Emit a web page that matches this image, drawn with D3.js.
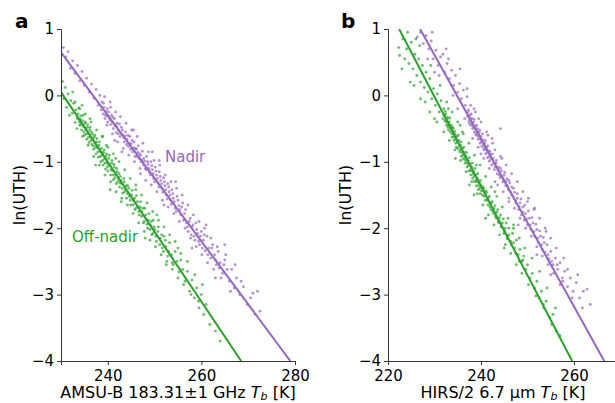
<!DOCTYPE html>
<html>
<head>
<script src="https://d3js.org/d3.v7.min.js"></script>
<style>
  body { margin: 0; background: #fff; }
  svg text { font-family: "DejaVu Sans", sans-serif; fill: #000; }
</style>
</head>
<body>
<svg width="615" height="403"></svg>
<script>
// scatter points, [Tb, ln(UTH)]
const nadirA = [
  [230.5,0.72],[231.0,0.58],[231.5,0.66],[232.0,0.41],[232.5,0.52],[233.0,0.33],[233.5,0.45],[234.0,0.22],[234.5,0.36],[235.0,0.15],[235.5,0.26],[236.0,0.05],[236.5,0.17],[237.0,-0.04],[237.5,0.09],[238.0,-0.15],[238.3,0.00],
  [238.6,-0.22],[238.8,-0.10],[239.0,-0.28],[239.2,-0.18],[239.4,-0.35],[239.6,-0.24],[239.8,-0.31],[240.0,-0.40],[240.2,-0.25],[240.4,-0.36],[240.6,-0.44],[240.8,-0.30],[241.0,-0.41],[241.2,-0.50],[241.4,-0.35],[241.6,-0.46],[241.8,-0.56],[242.0,-0.42],[242.3,-0.53],[242.6,-0.62],[242.9,-0.48],[243.2,-0.60],[243.5,-0.70],[243.8,-0.55],[244.1,-0.66],[244.4,-0.77],[244.7,-0.62],[245.0,-0.73],[245.3,-0.85],[245.6,-0.70],[245.9,-0.80],[246.2,-0.92],[246.5,-0.76],[246.8,-0.88],[247.1,-1.00],[247.4,-0.84],[247.7,-0.95],[248.0,-1.10],[248.3,-0.92],[248.6,-1.04],[248.9,-1.16],[249.2,-1.00],[249.5,-1.12],[249.8,-1.25],[250.1,-1.08],[250.4,-1.20],[250.7,-1.32],[251.0,-1.15],[251.3,-1.28],[251.6,-1.40],[251.9,-1.24],[252.2,-1.36],[252.5,-1.50],[252.8,-1.33],[253.1,-1.45],[253.4,-1.58],[253.7,-1.42],[254.0,-1.55],[254.4,-1.70],[254.8,-1.52],[255.2,-1.66],[255.6,-1.80],[256.0,-1.62],
  [240.5,-0.10],[243.0,-0.85],[245.5,-0.52],[247.0,-1.18],[249.5,-0.85],[252.0,-1.65],[254.5,-1.30],[241.5,-0.68],[251.0,-0.98],
  [256.4,-1.78],[256.8,-1.92],[257.2,-2.05],[257.6,-1.85],[258.0,-1.98],[258.4,-2.12],[258.8,-1.92],[259.2,-2.08],[259.6,-2.25],[260.0,-2.05],[260.4,-2.18],[260.8,-2.34],[261.2,-2.12],[261.6,-2.30],[262.0,-2.45],[262.4,-2.25],[262.8,-2.40],[263.2,-2.55],[263.6,-2.35],[264.0,-2.52],[264.5,-2.68],[265.0,-2.48],[265.5,-2.62],[266.0,-2.80],
  [258.0,-2.30],[261.0,-1.95],[263.0,-2.75],[265.0,-2.25],
  [266.5,-2.62],[267.0,-2.90],[267.5,-2.75],[268.2,-3.00],[269.0,-2.88],[269.8,-3.15],[270.5,-3.05],[271.0,-2.98],[271.5,-3.30],[272.0,-2.95],[272.5,-3.25],
  [239.1,-0.12],[239.5,-0.30],[239.9,-0.20],[240.3,-0.33],[240.7,-0.38],[241.1,-0.33],[241.5,-0.44],[241.9,-0.47],[242.2,-0.58],[242.5,-0.43],[242.8,-0.57],[243.1,-0.52],[243.4,-0.64],[243.7,-0.61],[244.0,-0.74],[244.3,-0.60],[244.6,-0.72],[244.9,-0.81],[245.2,-0.68],[245.5,-0.79],[245.8,-0.92],[246.1,-0.81],[246.4,-0.86],[246.7,-0.95],[247.0,-0.90],[247.3,-0.98],[247.6,-1.05],[247.9,-0.99],[248.2,-1.12],[248.5,-1.00],[248.8,-1.10],[249.1,-1.20],[249.4,-1.06],[249.7,-1.18],[250.0,-1.30],[250.3,-1.14],[250.6,-1.25],[250.9,-1.38],[251.2,-1.22],[251.5,-1.33],[251.8,-1.46],[252.1,-1.30],[252.4,-1.42],[252.7,-1.56],[253.0,-1.38],[253.3,-1.50],[253.6,-1.64],[253.9,-1.48],[254.2,-1.60],[254.6,-1.75],[255.0,-1.58],[255.4,-1.72],[255.8,-1.68],[256.2,-1.88],[256.6,-1.72],[257.0,-1.98],[257.4,-1.90],[257.8,-2.10],[258.2,-1.95],[258.6,-2.18],[259.0,-2.02],[259.4,-2.20],[259.8,-2.12],[260.2,-2.30],[260.6,-2.10],[261.4,-2.40],[262.2,-2.30],[263.0,-2.48],[263.8,-2.60],[264.8,-2.55],
  [239.3,-0.02],[239.8,-0.45],[240.6,-0.18],[241.0,-0.58],[241.7,-0.25],[242.1,-0.70],[242.7,-0.32],[243.3,-0.80],[243.9,-0.42],[244.5,-0.90],[245.1,-0.52],[245.7,-1.00],[246.3,-0.62],[246.9,-1.10],[247.5,-0.72],[248.1,-1.28],[248.7,-0.85],[249.3,-1.35],[249.9,-0.98],[250.5,-1.45],[251.1,-1.05],[251.7,-1.58],[252.3,-1.20],[252.9,-1.68],[253.5,-1.30],[254.1,-1.78],[254.7,-1.40],[255.3,-1.90],[255.9,-1.50],[256.5,-2.00],[257.1,-1.65],[257.7,-2.15],[258.3,-1.80],[258.9,-2.28],[259.5,-1.90],[260.1,-2.40],[260.7,-2.00],[261.3,-2.52],[262.0,-2.15],[262.6,-2.62],[263.4,-2.28],[264.2,-2.75],[265.2,-2.40],[266.2,-2.95],[267.2,-2.55],[268.5,-2.80]
];
const offNadirA = [
  [230.3,0.21],[230.6,-0.05],[230.9,0.12],[231.2,-0.18],[231.5,0.02],[231.8,-0.30],[232.1,-0.08],[232.4,-0.27],[232.7,-0.12],[233.0,-0.41],[233.2,-0.22],[233.5,-0.35],[233.8,-0.19],
  [234.0,-0.45],[234.2,-0.31],[234.4,-0.52],[234.6,-0.38],[234.8,-0.47],[235.0,-0.60],[235.1,-0.42],[235.3,-0.51],[235.5,-0.66],[235.6,-0.48],[235.8,-0.57],[236.0,-0.71],[236.1,-0.52],[236.3,-0.62],[236.5,-0.55],[236.6,-0.74],[236.8,-0.66],[237.0,-0.81],[237.1,-0.63],[237.3,-0.72],[237.5,-0.88],[237.6,-0.70],[237.8,-0.79],[238.0,-0.93],[238.1,-0.75],[238.3,-0.84],[238.5,-1.00],[238.6,-0.80],[238.8,-0.90],[239.0,-1.05],[239.1,-0.86],[239.3,-0.96],[239.5,-1.11],[239.6,-0.92],[239.8,-1.01],[240.0,-1.14],[240.2,-0.95],[240.4,-1.06],[240.6,-1.20],[240.8,-1.02],[241.0,-1.13],[241.2,-1.27],[241.4,-1.08],[241.6,-1.19],[241.8,-1.33],[242.0,-1.15],[242.2,-1.25],[242.5,-1.38],[242.7,-1.22],[243.0,-1.33],[243.2,-1.47],[243.5,-1.30],[243.8,-1.42],[244.0,-1.55],
  [234.5,-0.15],[236.2,-0.35],[237.4,-1.05],[238.9,-0.62],[240.5,-1.42],[241.7,-0.95],[239.7,-0.75],[242.9,-1.60],
  [244.3,-1.36],[244.6,-1.52],[244.9,-1.65],[245.2,-1.43],[245.5,-1.58],[245.8,-1.72],[246.1,-1.51],[246.4,-1.68],[246.7,-1.80],[247.0,-1.60],[247.3,-1.75],[247.6,-1.92],[247.9,-1.70],[248.2,-1.86],[248.5,-2.00],[248.8,-1.78],[249.1,-1.95],[249.4,-2.10],[249.7,-1.88],[250.0,-2.02],[250.4,-2.20],[250.8,-1.98],[251.2,-2.15],[251.6,-2.30],[252.0,-2.12],[252.4,-2.28],[252.8,-2.42],[253.2,-2.22],[253.6,-2.40],[254.0,-2.55],[254.4,-2.35],[254.8,-2.50],[255.2,-2.66],[255.6,-2.48],[256.0,-2.62],
  [246.0,-1.35],[248.0,-2.15],[250.5,-1.80],[252.5,-2.55],[255.0,-2.30],
  [256.5,-2.80],[257.0,-2.65],[257.5,-2.95],[258.0,-2.78],[258.5,-3.05],[259.0,-2.90],[259.5,-3.20],[260.0,-3.00],[260.5,-3.30],[261.0,-3.15],[261.8,-3.45],[263.0,-3.55],[264.0,-3.70],
  [233.6,-0.28],[233.9,-0.40],[234.1,-0.36],[234.3,-0.44],[234.7,-0.30],[234.9,-0.55],[235.2,-0.40],[235.4,-0.58],[235.7,-0.44],[235.9,-0.63],[236.2,-0.48],[236.4,-0.68],[236.7,-0.58],[236.9,-0.76],[237.2,-0.60],[237.4,-0.78],[237.7,-0.65],[237.9,-0.85],[238.2,-0.70],[238.4,-0.92],[238.7,-0.86],[238.9,-0.98],[239.2,-0.82],[239.4,-1.02],[239.7,-0.88],[239.9,-1.08],[240.1,-1.04],[240.3,-0.90],[240.7,-1.12],[240.9,-0.98],[241.1,-1.20],[241.3,-1.04],[241.5,-1.24],[241.9,-1.10],[242.1,-1.30],[242.4,-1.18],[242.6,-1.32],[242.8,-1.28],[243.1,-1.40],[243.4,-1.25],[243.6,-1.45],[243.9,-1.36],[244.2,-1.48],[244.5,-1.40],[244.8,-1.58],[245.1,-1.50],[245.4,-1.65],[245.7,-1.55],[246.0,-1.70],[246.3,-1.60],[246.6,-1.75],[246.9,-1.68],[247.2,-1.82],[247.5,-1.70],[247.8,-1.90],[248.1,-1.80],[248.4,-1.94],[248.7,-1.88],[249.0,-2.02],[249.3,-1.90],[249.6,-2.08],[249.9,-1.98],[250.3,-2.12],[250.7,-2.05],[251.1,-2.25],[251.5,-2.10],[251.9,-2.35],[252.3,-2.18],[253.0,-2.35],[253.8,-2.52],
  [232.5,0.05],[233.0,-0.10],[233.4,-0.50],[234.0,-0.20],[234.6,-0.62],[235.2,-0.28],[235.8,-0.75],[236.4,-0.40],[237.0,-0.92],[237.6,-0.52],[238.2,-1.05],[238.8,-0.62],[239.4,-1.20],[240.0,-0.78],[240.6,-1.30],[241.2,-0.88],[241.8,-1.45],[242.4,-1.00],[243.0,-1.55],[243.6,-1.12],[244.2,-1.65],[244.8,-1.25],[245.4,-1.78],[246.0,-1.42],[246.6,-1.92],[247.2,-1.50],[247.8,-2.05],[248.4,-1.62],[249.0,-2.18],[249.6,-1.75],[250.2,-2.28],[250.8,-1.88],[251.4,-2.40],[252.0,-1.98],[252.6,-2.50],[253.2,-2.10],[253.8,-2.62],[254.4,-2.20],[255.0,-2.75],[255.6,-2.38],[256.2,-2.85],[257.0,-2.50],[257.8,-3.00],[258.6,-2.70],[259.4,-3.10],[260.2,-2.85]
];
const nadirB = [
  [226.3,0.88],[227.0,0.95],[227.6,0.78],[228.2,0.90],[228.8,0.70],[229.3,0.82],[229.7,0.55],[230.3,0.68],[230.8,0.45],[231.3,0.58],[231.8,0.62],[232.2,0.35],[232.7,0.48],[233.2,0.25],[233.7,0.38],[234.1,0.15],[234.5,0.30],[235.0,0.05],[235.4,0.18],[235.8,-0.05],[236.2,0.08],[236.6,-0.15],[237.0,-0.02],[230.0,0.35],[233.0,0.55],[235.0,-0.20],
  [237.2,-0.25],[237.4,-0.38],[237.6,-0.30],[237.8,-0.45],[238.0,-0.35],[238.2,-0.50],[238.4,-0.40],[238.6,-0.55],[238.8,-0.46],[239.0,-0.60],[239.2,-0.50],[239.4,-0.66],[239.6,-0.56],[239.8,-0.72],[240.0,-0.62],[240.2,-0.77],[240.4,-0.67],[240.6,-0.82],[240.8,-0.72],[241.0,-0.88],[241.2,-0.78],[241.4,-0.94],[241.6,-0.84],[241.8,-0.99],[242.0,-0.89],[242.3,-1.05],[242.6,-0.95],[242.9,-1.12],[243.2,-1.02],[243.5,-1.18],[243.8,-1.08],[244.1,-1.24],[244.4,-1.14],[244.7,-1.30],[245.0,-1.20],[245.3,-1.36],[245.6,-1.26],[245.9,-1.42],
  [238.5,-0.20],[240.0,-0.88],[241.5,-0.60],[243.0,-1.30],[244.5,-0.95],[246.0,-1.60],[239.5,-0.35],[242.5,-0.72],[244.2,-0.50],
  [246.2,-1.32],[246.6,-1.50],[247.0,-1.40],[247.4,-1.58],[247.8,-1.48],[248.2,-1.68],[248.6,-1.56],[249.0,-1.76],[249.4,-1.65],[249.8,-1.86],[250.2,-1.74],[250.6,-1.95],[251.0,-1.84],[251.4,-2.05],[251.8,-1.94],[252.2,-2.15],[252.6,-2.04],[253.0,-2.25],[253.4,-2.14],[253.8,-2.36],[254.2,-2.25],[254.6,-2.46],[255.0,-2.35],[255.5,-2.55],[256.0,-2.45],
  [248.0,-1.95],[250.0,-1.60],[252.0,-2.40],[254.0,-2.05],[255.0,-2.70],[251.5,-1.70],
  [256.5,-2.62],[257.0,-2.52],[257.5,-2.75],[258.0,-2.65],[258.6,-2.88],[259.2,-2.75],[259.8,-2.95],[260.5,-2.82],[261.2,-3.05],[262.0,-2.95],[262.8,-2.92],[263.5,-3.15],
  [237.1,-0.32],[237.3,-0.22],[237.5,-0.42],[237.7,-0.35],[237.9,-0.28],[238.1,-0.42],[238.3,-0.47],[238.5,-0.36],[238.7,-0.50],[238.9,-0.58],[239.1,-0.45],[239.3,-0.55],[239.5,-0.62],[239.7,-0.52],[239.9,-0.66],[240.1,-0.70],[240.3,-0.58],[240.5,-0.75],[240.7,-0.80],[240.9,-0.68],[241.1,-0.82],[241.3,-0.86],[241.5,-0.76],[241.7,-0.92],[241.9,-0.84],[242.1,-0.96],[242.4,-0.88],[242.7,-1.02],[243.0,-1.08],[243.3,-0.98],[243.6,-1.12],[243.9,-1.20],[244.2,-1.10],[244.5,-1.22],[244.8,-1.26],[245.1,-1.16],[245.4,-1.30],[245.7,-1.36],[246.0,-1.28],[246.3,-1.45],[246.6,-1.38],[246.9,-1.52],[247.2,-1.46],[247.5,-1.62],[247.8,-1.55],[248.1,-1.72],[248.4,-1.62],[248.7,-1.80],[249.0,-1.68],[249.3,-1.88],[249.6,-1.78],[250.0,-1.95],[250.4,-1.85],[250.8,-2.02],[251.2,-1.92],[251.6,-2.12],[252.0,-2.02],[252.4,-2.22],[252.8,-2.12],[253.2,-2.32],[253.6,-2.22],[254.4,-2.40],[255.2,-2.50],[256.4,-2.55],[257.6,-2.80],
  [228.5,0.55],[229.5,0.95],[231.0,0.30],[232.5,0.70],[234.0,0.00],[235.5,0.40],[236.5,-0.35],[237.0,0.10],[237.8,-0.15],[238.2,-0.65],[238.8,-0.25],[239.4,-0.78],[240.0,-0.40],[240.6,-0.95],[241.2,-0.55],[241.8,-1.10],[242.4,-0.65],[243.0,-0.82],[243.6,-1.35],[244.2,-0.92],[244.8,-1.45],[245.4,-1.05],[246.0,-1.55],[246.6,-1.18],[247.2,-1.70],[247.8,-1.30],[248.4,-1.85],[249.0,-1.45],[249.6,-2.00],[250.2,-1.55],[250.8,-2.12],[251.4,-1.72],[252.0,-2.28],[252.6,-1.85],[253.2,-2.42],[253.8,-2.00],[254.4,-2.55],[255.0,-2.15],[255.6,-2.68],[256.2,-2.30],[257.0,-2.85],[257.8,-2.45],[258.6,-2.62],[259.6,-3.05],[260.8,-2.70],[261.8,-3.20]
];
const offNadirB = [
  [222.3,0.72],[222.5,0.60],[223.2,0.85],[223.6,0.55],[224.0,0.70],[224.5,0.48],[225.0,0.80],[225.4,0.40],[225.8,0.62],[226.2,0.30],[226.6,0.55],[227.0,0.20],[227.4,0.45],[227.8,0.12],[228.2,0.35],[228.6,0.05],[229.0,0.25],[229.4,-0.05],[229.8,0.10],[230.2,-0.15],[230.6,0.02],[231.0,-0.25],[231.4,-0.08],[231.8,-0.35],[224.8,0.20],[227.0,-0.05],[229.0,-0.25],[226.0,0.85],[230.5,-0.40],
  [232.0,-0.20],[232.2,-0.38],[232.4,-0.28],[232.6,-0.45],[232.8,-0.33],[233.0,-0.52],[233.2,-0.40],[233.4,-0.55],[233.6,-0.45],[233.8,-0.63],[234.0,-0.50],[234.2,-0.68],[234.4,-0.58],[234.6,-0.72],[234.8,-0.62],[235.0,-0.80],[235.2,-0.68],[235.4,-0.85],[235.6,-0.75],[235.8,-0.92],[236.0,-0.80],[236.2,-0.96],[236.4,-0.86],[236.6,-1.02],[236.8,-0.92],[237.0,-1.08],[237.2,-0.98],[237.4,-1.14],[237.6,-1.04],[237.8,-1.20],[238.0,-1.08],[238.2,-1.25],[238.4,-1.15],[238.6,-1.30],[238.8,-1.20],[239.0,-1.36],[239.2,-1.25],[239.4,-1.42],[239.6,-1.32],[239.8,-1.48],[240.0,-1.36],
  [233.0,-0.20],[234.5,-0.95],[236.0,-0.55],[237.5,-1.35],[239.0,-1.05],[235.5,-0.45],[238.5,-1.50],
  [240.3,-1.50],[240.6,-1.40],[240.9,-1.58],[241.2,-1.46],[241.5,-1.65],[241.8,-1.52],[242.1,-1.72],[242.4,-1.60],[242.7,-1.78],[243.0,-1.66],[243.3,-1.85],[243.6,-1.72],[243.9,-1.92],[244.2,-1.80],[244.5,-1.98],[244.8,-1.86],[245.1,-2.05],[245.4,-1.92],[245.7,-2.12],[246.0,-2.00],[246.4,-2.20],[246.8,-2.08],[247.2,-2.30],[247.6,-2.18],[248.0,-2.40],
  [241.0,-1.85],[243.0,-1.45],[245.0,-2.30],[247.0,-1.95],
  [248.4,-2.32],[248.8,-2.50],[249.2,-2.42],[249.6,-2.62],[250.0,-2.55],[250.5,-2.75],[251.0,-2.68],[251.5,-2.90],[252.0,-2.80],[252.5,-3.05],[253.0,-2.95],[253.5,-3.20],[254.0,-3.10],[254.8,-3.35],[255.5,-3.30],[256.2,-3.55],[257.0,-3.62],
  [232.1,-0.30],[232.3,-0.24],[232.5,-0.40],[232.7,-0.36],[232.9,-0.48],[233.1,-0.44],[233.3,-0.34],[233.5,-0.50],[233.7,-0.58],[233.9,-0.48],[234.1,-0.62],[234.3,-0.54],[234.5,-0.66],[234.7,-0.78],[234.9,-0.70],[235.1,-0.60],[235.3,-0.76],[235.5,-0.82],[235.7,-0.70],[235.9,-0.86],[236.1,-0.90],[236.3,-0.78],[236.5,-0.94],[236.7,-0.98],[236.9,-0.86],[237.1,-1.02],[237.3,-1.06],[237.5,-0.94],[237.7,-1.12],[237.9,-1.14],[238.1,-1.02],[238.3,-1.18],[238.5,-1.22],[238.7,-1.10],[238.9,-1.28],[239.1,-1.30],[239.3,-1.18],[239.5,-1.36],[239.7,-1.40],[239.9,-1.28],[240.1,-1.44],[240.4,-1.38],[240.7,-1.52],[241.0,-1.44],[241.3,-1.58],[241.6,-1.54],[241.9,-1.68],[242.2,-1.62],[242.5,-1.74],[242.8,-1.70],[243.1,-1.82],[243.4,-1.76],[243.7,-1.90],[244.0,-1.84],[244.3,-1.98],[244.6,-1.92],[244.9,-2.08],[245.2,-2.00],[245.6,-2.16],[246.0,-2.10],[246.5,-2.25],[247.0,-2.22],[247.5,-2.38],[248.2,-2.50],[249.0,-2.48],
  [223.0,0.40],[224.2,0.95],[225.6,0.15],[226.8,0.75],[228.0,-0.10],[229.2,0.45],[230.0,-0.35],[231.2,0.15],[232.0,-0.55],[232.6,-0.10],[233.2,-0.68],[233.8,-0.25],[234.4,-0.82],[235.0,-0.40],[235.6,-0.98],[236.2,-0.58],[236.8,-1.15],[237.4,-0.72],[238.0,-1.30],[238.6,-0.90],[239.2,-1.48],[239.8,-1.05],[240.4,-1.65],[241.0,-1.22],[241.6,-1.80],[242.2,-1.38],[242.8,-1.95],[243.4,-1.52],[244.0,-2.10],[244.6,-1.68],[245.2,-2.25],[245.8,-1.85],[246.4,-2.38],[247.0,-2.00],[247.6,-2.55],[248.2,-2.15],[248.8,-2.68],[249.4,-2.30],[250.2,-2.85],[251.0,-2.45],[251.8,-3.02],[252.6,-2.65],[253.4,-3.15],[254.2,-2.90],[255.2,-3.45],[256.0,-3.20]
];

// fitted lines, end points [Tb, ln(UTH)]
const fitNadirA = [[230, 0.65], [279, -4]];
const fitOffNadirA = [[230, 0.05], [268.5, -4]];
const fitNadirB = [[226.9, 1], [266.5, -4]];
const fitOffNadirB = [[222.4, 1], [259.6, -4]];

const xTicksA = [240, 260, 280];
const xTicksB = [220, 240, 260];
const yTicks = [1, 0, -1, -2, -3, -4];

const purple = "#9467bd", green = "#2ca02c";
const svg = d3.select("svg");

const panels = [
  { id: "a", left: 61, right: 295, xDomain: [230, 280], xTicks: xTicksA,
    series: [nadirA, offNadirA], fits: [fitNadirA, fitOffNadirA],
    xlabel: "AMSU-B 183.31\u00b11 GHz ", xlabelX: 178, letterX: 15, ylabX: 25, labels: true },
  { id: "b", left: 388, right: 620.5, xDomain: [220, 270], xTicks: xTicksB,
    series: [nadirB, offNadirB], fits: [fitNadirB, fitOffNadirB],
    xlabel: "HIRS/2 6.7 \u00b5m ", xlabelX: 503, letterX: 341, ylabX: 351, labels: false }
];
const plotTop = 29, plotBottom = 361;
const colors = [purple, green];

panels.forEach(p => {
  const x = d3.scaleLinear().domain(p.xDomain).range([p.left, p.right]);
  const y = d3.scaleLinear().domain([-4, 1]).range([plotBottom, plotTop]);
  const g = svg.append("g");

  g.append("clipPath").attr("id", "clip" + p.id)
    .append("rect").attr("x", p.left).attr("y", plotTop)
    .attr("width", p.right - p.left).attr("height", plotBottom - plotTop);

  const plot = g.append("g").attr("clip-path", `url(#clip${p.id})`);
  p.series.forEach((s, i) => {
    plot.append("g").selectAll("circle").data(s).join("circle")
      .attr("cx", d => x(d[0])).attr("cy", d => y(d[1]))
      .attr("r", 1.45).attr("fill", colors[i]).attr("fill-opacity", 0.7);
  });
  const line = d3.line().x(d => x(d[0])).y(d => y(d[1]));
  p.fits.forEach((f, i) => {
    plot.append("path").attr("d", line(f)).attr("stroke", colors[i])
      .attr("stroke-width", 2).attr("fill", "none");
  });

  const xAxis = g.append("g").attr("transform", `translate(0,${plotBottom})`)
    .call(d3.axisBottom(x).tickValues(p.xTicks).tickSize(4).tickPadding(5).tickFormat(d3.format("d")));
  const yAxis = g.append("g").attr("transform", `translate(${p.left},0)`)
    .call(d3.axisLeft(y).tickValues(yTicks).tickSize(4).tickPadding(3).tickFormat(d => d < 0 ? "\u2212" + Math.abs(d) : d));
  [xAxis, yAxis].forEach(a => {
    a.selectAll("text").attr("font-size", 15).attr("font-family", "DejaVu Sans");
    a.select(".domain").attr("stroke", "#333").attr("stroke-width", 1);
    a.selectAll(".tick line").attr("stroke", "#333");
  });

  const xl = g.append("text").attr("x", p.xlabelX).attr("y", 398)
    .attr("text-anchor", "middle").attr("font-size", 16);
  xl.append("tspan").text(p.xlabel);
  xl.append("tspan").attr("font-style", "italic").text("T");
  xl.append("tspan").attr("font-style", "italic").attr("font-size", 11).attr("dy", 2).text("b");
  xl.append("tspan").attr("dy", -2).text(" [K]");

  g.append("text").attr("transform", `translate(${p.ylabX},${(plotTop + plotBottom) / 2}) rotate(-90)`)
    .attr("text-anchor", "middle").attr("font-size", 16).text("ln(UTH)");

  g.append("text").attr("x", p.letterX).attr("y", 28).attr("font-size", 20)
    .attr("font-weight", "bold").text(p.id);

  if (p.labels) {
    g.append("text").attr("x", 165).attr("y", 162).attr("font-size", 15)
      .style("fill", purple).text("Nadir");
    g.append("text").attr("x", 72).attr("y", 242).attr("font-size", 15)
      .style("fill", green).text("Off-nadir");
  }
});
</script>
</body>
</html>
